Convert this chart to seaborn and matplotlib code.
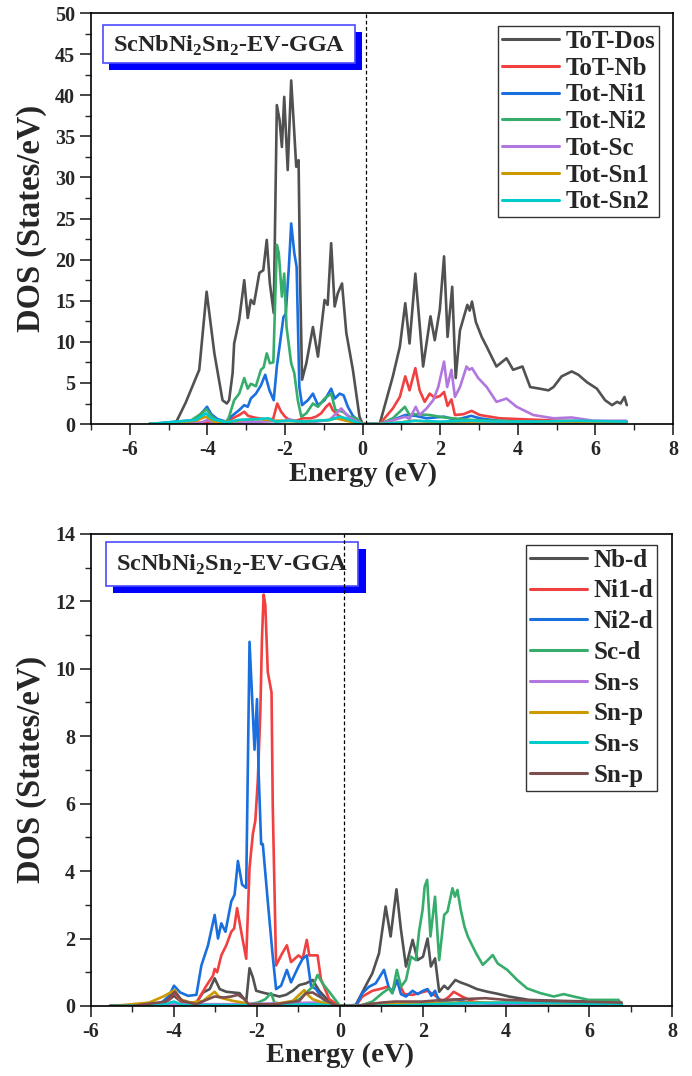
import matplotlib
matplotlib.use("Agg")
import matplotlib.pyplot as plt
import seaborn as sns
from matplotlib.patches import Rectangle
from matplotlib.ticker import MultipleLocator

# ---------------------------------------------------------------
# Data: energy (eV) and DOS (states/eV)
# ---------------------------------------------------------------

# top panel: total / atom-resolved DOS
tot_dos_e = [-5.5, -4.83, -4.56, -4.21, -4.02, -3.82, -3.61, -3.5, -3.44, -3.35, -3.31, -3.18,
             -3.05, -2.96, -2.88, -2.8, -2.66, -2.56, -2.47, -2.39, -2.29, -2.21, -2.14, -2.08,
             -2.02, -1.93, -1.84, -1.76, -1.71, -1.65, -1.61, -1.56, -1.45, -1.28, -1.15, -0.98,
             -0.9, -0.81, -0.72, -0.64, -0.53, -0.42, -0.25, -0.08, 0.0, 0.44, 0.61, 0.78, 0.96,
             1.1, 1.21, 1.36, 1.46, 1.56, 1.75, 1.86, 1.99, 2.1, 2.19, 2.31, 2.4, 2.51, 2.7,
             2.76, 2.82, 2.92, 3.07, 3.2, 3.45, 3.71, 3.88, 4.12, 4.32, 4.57, 4.79, 4.92, 5.13,
             5.39, 5.56, 5.78, 6.04, 6.25, 6.43, 6.56, 6.65, 6.75, 6.81]
tot_dos_v = [0, 0, 2.6, 6.6, 16.1, 8.6, 2.9, 2.5, 2.9, 6.2, 9.8, 12.7,
             17.5, 12.9, 15.1, 14.6, 18.4, 18.7, 22.4, 17.1, 13.5, 38.8, 37.0, 33.7,
             39.8, 30.9, 41.8, 35.4, 31.3, 32.1, 17.5, 5.4, 7.4, 11.8, 8.2, 15.1,
             14.5, 22.0, 14.3, 15.9, 17.1, 11.1, 6.6, 0.9, 0, 0, 2.9, 5.8, 9.4,
             14.7, 9.8, 18.3, 12.7, 7.0, 13.1, 10.2, 13.9, 20.4, 10.6, 16.7, 5.6, 11.4, 14.5,
             13.8, 14.9, 12.4, 10.6, 9.4, 7.0, 8.0, 6.6, 7.0, 4.5, 4.3, 4.1, 4.5, 5.8,
             6.4, 6.0, 5.1, 4.3, 2.9, 2.3, 2.7, 2.5, 3.3, 2.3]

tot_nb_e = [-5.5, -4.0, -3.5, -3.35, -3.18, -3.05, -2.95, -2.8, -2.4, -2.3, -2.2, -2.1, -2.0,
            -1.89, -1.71, -1.54, -1.33, -1.2, -1.07, -0.94, -0.85, -0.77, -0.64, -0.43, -0.09,
            0.0, 0.44, 0.78, 0.96, 1.1, 1.21, 1.36, 1.47, 1.6, 1.73, 1.86, 1.99, 2.1, 2.19,
            2.29, 2.38, 2.6, 2.81, 3.02, 3.54, 4.06, 5.1, 6.8]
tot_nb_v = [0, 0.2, 0.2, 0.7, 1.1, 1.5, 1.0, 0.8, 0.5, 0.7, 2.5, 1.5, 0.9,
            0.5, 0.4, 0.7, 0.7, 0.9, 1.3, 2.1, 2.5, 1.7, 1.1, 0.5, 0.2,
            0, 0, 1.9, 3.3, 5.8, 4.1, 6.8, 4.1, 2.7, 3.7, 3.2, 3.4, 3.9, 2.2,
            3.0, 1.1, 1.2, 1.6, 1.1, 0.7, 0.6, 0.4, 0.3]

tot_ni1_e = [-5.5, -4.3, -4.08, -4.01, -3.9, -3.74, -3.52, -3.39, -3.18, -3.05, -2.96, -2.88,
             -2.75, -2.62, -2.51, -2.4, -2.29, -2.21, -2.13, -2.04, -1.98, -1.9, -1.84, -1.76,
             -1.7, -1.63, -1.56, -1.41, -1.28, -1.15, -0.98, -0.81, -0.72, -0.59, -0.49, -0.38,
             -0.25, -0.08, 0.0, 0.44, 0.78, 1.1, 1.36, 1.65, 2.1, 2.4, 2.8, 3.02, 3.5, 4.5, 6.8]
tot_ni1_v = [0, 0.5, 1.7, 2.1, 1.2, 0.6, 0.3, 0.9, 1.7, 2.3, 2.1, 3.1,
             3.7, 4.7, 6.0, 4.1, 2.9, 7.0, 9.8, 13.0, 13.4, 19.1, 24.4, 20.8,
             19.1, 4.5, 2.3, 2.9, 3.7, 2.3, 2.9, 4.3, 3.1, 3.7, 3.5, 2.1,
             1.0, 0.3, 0, 0, 0.5, 1.1, 1.0, 0.7, 0.9, 0.5, 1.0, 0.7, 0.4, 0.2, 0.2]

tot_ni2_e = [-5.5, -4.47, -4.21, -4.02, -3.9, -3.74, -3.5, -3.44, -3.31, -3.18, -3.05, -2.96,
             -2.88, -2.75, -2.62, -2.55, -2.47, -2.39, -2.3, -2.21, -2.16, -2.08, -2.02, -1.96,
             -1.84, -1.76, -1.67, -1.58, -1.45, -1.28, -1.15, -0.98, -0.81, -0.7, -0.51, -0.34,
             -0.16, 0.0, 0.44, 0.78, 1.09, 1.21, 1.36, 1.73, 2.1, 2.8, 4.0, 6.8]
tot_ni2_v = [0, 0.3, 1.1, 1.8, 1.0, 0.4, 0.3, 0.9, 2.9, 3.7, 5.6, 4.3,
             4.9, 4.6, 6.6, 6.9, 8.6, 7.4, 7.5, 21.8, 20.8, 15.5, 18.3, 11.8,
             7.4, 6.2, 2.9, 0.9, 1.3, 2.5, 2.1, 3.1, 3.7, 1.7, 1.5, 0.9,
             0.7, 0, 0, 0.7, 2.1, 1.1, 1.2, 1.1, 0.8, 0.5, 0.3, 0.3]

tot_sc_e = [-5.5, -4.2, -4.0, -3.8, -3.2, -2.5, -2.0, -1.9, -1.7, -1.2, -0.85, -0.55, -0.35,
            -0.09, 0.0, 0.44, 0.96, 1.1, 1.21, 1.37, 1.47, 1.65, 1.82, 1.95, 2.1, 2.18, 2.29,
            2.38, 2.51, 2.68, 2.75, 2.82, 2.98, 3.2, 3.45, 3.71, 3.97, 4.4, 4.92, 5.39, 5.95, 6.8]
tot_sc_v = [0, 0.1, 0.5, 0.1, 0.2, 0.3, 0.4, 0.6, 0.3, 0.3, 0.5, 1.9, 0.8,
            0.2, 0, 0, 0.7, 0.9, 0.6, 2.1, 1.1, 1.9, 2.9, 4.5, 7.6, 4.5, 6.6,
            3.3, 4.5, 7.0, 6.6, 6.8, 5.6, 4.5, 2.7, 3.1, 2.1, 1.1, 0.7, 0.8, 0.4, 0.4]

tot_sn1_e = [-5.5, -5.1, -4.3, -4.04, -3.78, -3.4, -3.09, -2.65, -2.2, -1.5, -0.85, -0.68,
             -0.43, -0.09, 0.0, 0.44, 1.0, 1.3, 2.0, 2.8, 3.5, 4.5, 5.5, 6.8]
tot_sn1_v = [0, 0.1, 0.4, 0.9, 0.2, 0.3, 0.5, 0.6, 0.4, 0.3, 0.5, 0.7,
             0.4, 0.1, 0, 0, 0.2, 0.4, 0.2, 0.3, 0.3, 0.2, 0.3, 0.2]

tot_sn2_e = [-5.5, -4.3, -4.04, -3.87, -3.5, -3.2, -2.7, -2.43, -2.25, -1.9, -1.5, -0.85,
             -0.59, -0.43, -0.09, 0.0, 0.44, 1.0, 1.35, 2.0, 2.8, 3.5, 4.5, 5.5, 6.8]
tot_sn2_v = [0, 0.5, 1.3, 0.6, 0.2, 0.5, 0.6, 0.7, 0.3, 0.4, 0.3, 0.5,
             0.9, 0.7, 0.1, 0, 0, 0.2, 0.4, 0.3, 0.4, 0.3, 0.3, 0.4, 0.3]

# bottom panel: orbital-projected DOS
nb_d_e = [-5.54, -4.5, -4.2, -4.0, -3.8, -3.46, -3.3, -3.14, -3.02, -2.9, -2.74, -2.58, -2.42,
          -2.26, -2.18, -2.1, -2.02, -1.81, -1.62, -1.46, -1.3, -1.14, -0.98, -0.82, -0.66,
          -0.5, -0.26, 0.0, 0.38, 0.62, 0.78, 0.94, 1.1, 1.22, 1.36, 1.47, 1.59, 1.75, 1.87,
          2.0, 2.11, 2.19, 2.29, 2.39, 2.51, 2.6, 2.78, 2.9, 3.08, 3.3, 3.56, 3.8, 4.07, 4.55,
          5.35, 6.15, 6.79]
nb_d_v = [0, 0.02, 0.1, 0.3, 0.1, 0.1, 0.4, 0.5, 0.82, 0.5, 0.42, 0.4, 0.38,
          0.13, 1.12, 0.85, 0.45, 0.38, 0.33, 0.28, 0.33, 0.45, 0.62, 0.67, 0.77,
          0.45, 0.13, 0, 0.03, 0.6, 0.97, 1.56, 2.95, 2.06, 3.46, 2.25, 1.17, 1.96, 1.36,
          1.46, 2.0, 1.17, 1.41, 0.42, 0.6, 0.5, 0.77, 0.7, 0.62, 0.5, 0.42, 0.36, 0.28, 0.18,
          0.15, 0.13, 0.08]

ni1_d_e = [-5.54, -4.58, -4.18, -4.0, -3.8, -3.46, -3.22, -3.06, -3.02, -2.96, -2.86, -2.74,
           -2.62, -2.55, -2.48, -2.38, -2.26, -2.18, -2.1, -2.04, -1.98, -1.92, -1.88, -1.84,
           -1.8, -1.74, -1.68, -1.65, -1.62, -1.54, -1.42, -1.28, -1.18, -1.0, -0.9, -0.8,
           -0.74, -0.66, -0.54, -0.46, -0.26, 0.0, 0.38, 0.54, 0.78, 1.02, 1.14, 1.26, 1.38,
           1.55, 1.75, 2.11, 2.3, 2.47, 2.63, 2.74, 2.94, 3.2, 3.56, 4.5, 6.79]
ni1_d_v = [0, 0.03, 0.1, 0.4, 0.1, 0.1, 0.6, 0.9, 1.1, 1.0, 1.5, 1.8,
           2.2, 2.3, 2.9, 2.2, 1.4, 4.1, 5.1, 5.5, 6.7, 8.7, 10.9, 12.2,
           11.9, 9.9, 9.5, 9.3, 5.9, 1.2, 1.5, 1.8, 1.3, 1.5, 1.4, 1.96,
           1.5, 1.5, 1.5, 0.8, 0.2, 0, 0, 0.28, 0.45, 0.52, 0.57, 0.45, 0.77,
           0.35, 0.33, 0.45, 0.3, 0.13, 0.28, 0.42, 0.28, 0.13, 0.08, 0.05, 0.03]

ni2_d_e = [-5.54, -4.34, -4.12, -4.0, -3.85, -3.66, -3.46, -3.34, -3.18, -3.02, -2.94, -2.86,
           -2.76, -2.62, -2.54, -2.46, -2.36, -2.26, -2.18, -2.12, -2.06, -2.0, -1.96, -1.9,
           -1.86, -1.74, -1.62, -1.54, -1.42, -1.28, -1.18, -1.0, -0.9, -0.8, -0.7, -0.58,
           -0.41, -0.17, 0.38, 0.54, 0.7, 0.86, 1.06, 1.17, 1.26, 1.37, 1.47, 1.59, 1.75,
           1.87, 2.0, 2.11, 2.2, 2.29, 2.39, 2.78, 3.1, 3.56, 6.79]
ni2_d_v = [0, 0.05, 0.3, 0.6, 0.4, 0.3, 0.33, 1.2, 1.8, 2.7, 2.0, 2.45,
           2.2, 3.1, 3.3, 4.3, 3.6, 3.5, 10.8, 9.2, 7.6, 9.1, 6.9, 4.8,
           4.8, 3.1, 1.46, 0.5, 0.6, 1.07, 0.7, 1.17, 1.4, 1.5, 0.6, 0.5,
           0.2, 0, 0, 0.38, 0.57, 0.67, 1.07, 0.57, 0.38, 0.77, 0.35, 0.28, 0.45,
           0.35, 0.45, 0.5, 0.3, 0.45, 0.13, 0.18, 0.1, 0.08, 0.03]

sc_d_e = [-5.54, -4.0, -2.5, -2.2, -1.98, -1.8, -1.66, -1.58, -1.3, -0.98, -0.66, -0.54,
          -0.42, -0.26, 0.0, 0.38, 0.54, 0.78, 1.02, 1.18, 1.26, 1.37, 1.47, 1.59, 1.71, 1.83,
          1.91, 1.99, 2.04, 2.1, 2.18, 2.29, 2.39, 2.51, 2.59, 2.71, 2.77, 2.83, 2.91, 3.0,
          3.08, 3.28, 3.44, 3.56, 3.68, 3.8, 4.03, 4.27, 4.51, 4.83, 5.15, 5.39, 5.63, 5.99,
          6.71, 6.79]
sc_d_v = [0, 0.05, 0.05, 0.05, 0.1, 0.2, 0.38, 0.1, 0.05, 0.2, 0.57, 0.92,
          0.67, 0.42, 0, 0, 0.03, 0.13, 0.38, 0.52, 0.38, 1.07, 0.57, 0.77, 1.46, 1.36,
          2.25, 2.85, 3.54, 3.74, 2.06, 3.24, 1.36, 2.7, 2.8, 3.49, 3.24, 3.44, 2.85, 2.35,
          2.06, 1.56, 1.22, 1.36, 1.51, 1.26, 1.07, 0.77, 0.52, 0.38, 0.28, 0.35, 0.28, 0.18,
          0.18, 0.05]

sn_s_e = [-5.54, -4.0, -2.5, -0.6, 0.0, 0.38, 2.0, 3.5, 6.79]
sn_s_v = [0, 0.05, 0.05, 0.1, 0, 0, 0.05, 0.08, 0.05]

sn_p_e = [-5.54, -5.2, -4.6, -4.26, -3.98, -3.85, -3.6, -3.3, -3.02, -2.9, -2.58, -2.34,
          -2.18, -1.6, -1.14, -0.86, -0.82, -0.66, -0.42, 0.0, 0.38, 1.0, 2.0, 3.0, 4.0, 6.79]
sn_p_v = [0, 0.03, 0.1, 0.28, 0.47, 0.2, 0.1, 0.15, 0.42, 0.25, 0.15, 0.1,
          0.03, 0.05, 0.15, 0.47, 0.38, 0.2, 0.1, 0, 0, 0.05, 0.08, 0.1, 0.1, 0.05]

sn2_s_e = [-5.54, -4.3, -4.0, -3.8, -2.0, -0.6, 0.0, 0.38, 1.5, 3.0, 4.0, 5.5, 6.79]
sn2_s_v = [0, 0.03, 0.13, 0.03, 0.02, 0.05, 0, 0, 0.02, 0.08, 0.1, 0.08, 0.05]

sn2_p_e = [-5.54, -5.0, -4.2, -3.98, -3.8, -3.46, -3.22, -3.02, -2.8, -2.62, -2.46, -2.3,
           -2.2, -1.55, -0.98, -0.82, -0.66, -0.5, -0.17, 0.0, 0.38, 1.0, 1.32, 1.98, 2.5,
           3.5, 4.0, 5.6, 6.79]
sn2_p_v = [0, 0, 0.13, 0.42, 0.15, 0.05, 0.18, 0.28, 0.25, 0.28, 0.33, 0.2,
           0.05, 0.05, 0.15, 0.38, 0.4, 0.28, 0.05, 0, 0, 0.1, 0.13, 0.13, 0.18,
           0.23, 0.18, 0.13, 0.1]

top_labels = ["ToT-Dos", "ToT-Nb", "Tot-Ni1", "Tot-Ni2", "Tot-Sc", "Tot-Sn1", "Tot-Sn2"]
bottom_labels = ["Nb-d", "Ni1-d", "Ni2-d", "Sc-d", "Sn-s", "Sn-p", "Sn-s", "Sn-p"]

# Origin-like default palette
colores = ["#515151", "#F14040", "#1A6FDF", "#37AD6B", "#B177DE", "#CC9900", "#00CBCC", "#7D4E4E"]

titulo = r"ScNbNi$_\mathbf{2}$Sn$_\mathbf{2}$-EV-GGA"
e_fermi = 0.1

# ---------------------------------------------------------------
# Style
# ---------------------------------------------------------------
sns.set_style("ticks")
plt.rcParams["font.family"] = ["Liberation Serif", "DejaVu Serif"]
plt.rcParams["font.weight"] = "bold"
plt.rcParams["axes.unicode_minus"] = False
plt.rcParams["mathtext.fontset"] = "custom"
plt.rcParams["mathtext.rm"] = "Liberation Serif:bold"
plt.rcParams["mathtext.bf"] = "Liberation Serif:bold"
plt.rcParams["axes.linewidth"] = 1.2


def caja_titulo(ax, box, sombra):
    """Recuadro del título con sombra azul"""
    ax.add_patch(Rectangle((sombra[0], sombra[1]), sombra[2] - sombra[0], sombra[3] - sombra[1],
                           transform=ax.transAxes, facecolor="#0000FF", edgecolor="none",
                           zorder=5))
    ax.add_patch(Rectangle((box[0], box[1]), box[2] - box[0], box[3] - box[1],
                           transform=ax.transAxes, facecolor="white", edgecolor="#4B4BFF",
                           lw=1.2, zorder=6))
    ax.text((box[0] + box[2]) / 2, (box[1] + box[3]) / 2 - 0.003, titulo, transform=ax.transAxes,
            ha="center", va="center", fontsize=17.5, fontweight="bold", zorder=7)


def estilo_ejes(ax, ymax, ystep, xmin):
    ax.set_xlim(xmin, 8)
    ax.set_ylim(0, ymax)
    ax.xaxis.set_major_locator(MultipleLocator(2))
    ax.xaxis.set_minor_locator(MultipleLocator(1))
    ax.yaxis.set_major_locator(MultipleLocator(ystep))
    ax.yaxis.set_minor_locator(MultipleLocator(ystep / 2))
    ax.tick_params(which="major", direction="out", length=8, width=1.2, labelsize=14.5)
    ax.tick_params(which="minor", direction="out", length=4.5, width=1.0)
    for s in ax.spines.values():
        s.set_visible(True)
        s.set_linewidth(1.2)
        s.set_color("black")
    ax.set_ylabel("DOS (States/eV)", fontsize=23.5, fontweight="bold")
    ax.set_xlabel("Energy (eV)", fontsize=20.5, fontweight="bold")
    ax.axvline(e_fermi, color="black", lw=0.9, ls=(0, (3, 2)), zorder=8)


def leyenda(ax, anchor, spacing):
    leg = ax.legend(loc="upper right", bbox_to_anchor=anchor, borderaxespad=0,
                    fancybox=False, edgecolor="#333333", framealpha=1,
                    handlelength=2.3, handletextpad=0.25, labelspacing=spacing,
                    borderpad=0.15,
                    prop={"family": "Liberation Serif", "weight": "bold", "size": 18})
    leg.get_frame().set_linewidth(1.0)
    for ln in leg.get_lines():
        ln.set_linewidth(2.2)


fig = plt.figure(figsize=(6.92, 10.76), dpi=100)
ax1 = fig.add_axes([0.1315, 0.6059, 0.8410, 0.3820])
ax2 = fig.add_axes([0.1315, 0.0651, 0.8396, 0.4387])

# ---- panel superior ----
series_top = [(tot_dos_e, tot_dos_v), (tot_nb_e, tot_nb_v), (tot_ni1_e, tot_ni1_v),
              (tot_ni2_e, tot_ni2_v), (tot_sc_e, tot_sc_v), (tot_sn1_e, tot_sn1_v),
              (tot_sn2_e, tot_sn2_v)]
for (e, d), lab, c in zip(series_top, top_labels, colores):
    sns.lineplot(x=e, y=d, ax=ax1, color=c, lw=1.9, label=lab, sort=False)

estilo_ejes(ax1, 50, 5, -7)
ax1.xaxis.set_label_coords((0 + 7) / 15, -0.092)
ax1.yaxis.set_label_coords(-0.076, 0.5)
caja_titulo(ax1, (0.0211, 0.8776, 0.4536, 0.9708), (0.0309, 0.8613, 0.4651, 0.9538))
leyenda(ax1, (0.976, 0.968), 0.15)

# ---- panel inferior ----
series_bot = [(nb_d_e, nb_d_v), (ni1_d_e, ni1_d_v), (ni2_d_e, ni2_d_v), (sc_d_e, sc_d_v),
              (sn_s_e, sn_s_v), (sn_p_e, sn_p_v), (sn2_s_e, sn2_s_v), (sn2_p_e, sn2_p_v)]
for (e, d), lab, c in zip(series_bot, bottom_labels, colores):
    sns.lineplot(x=e, y=d, ax=ax2, color=c, lw=1.9, label=lab, sort=False)

estilo_ejes(ax2, 14, 2, -6)
ax2.xaxis.set_label_coords(6 / 14, -0.078)
ax2.yaxis.set_label_coords(-0.076, 0.5)
caja_titulo(ax2, (0.0253, 0.8905, 0.4601, 0.9837), (0.0384, 0.8756, 0.4728, 0.9682))
leyenda(ax2, (0.974, 0.977), 0.31)

fig.savefig("out.png", dpi=100)
